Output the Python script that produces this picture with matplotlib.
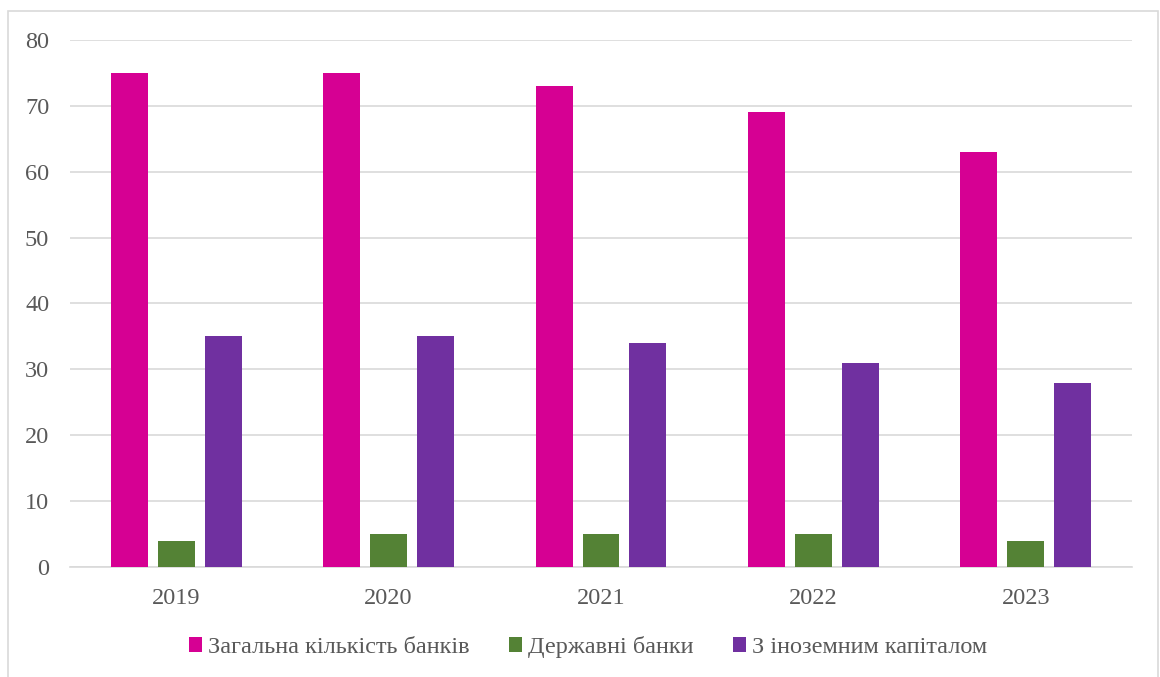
import matplotlib.pyplot as plt
import numpy as np
from matplotlib.patches import Rectangle

years = ['2019', '2020', '2021', '2022', '2023']
total_banks = [75, 75, 73, 69, 63]
state_banks = [4, 5, 5, 5, 4]
foreign_banks = [35, 35, 34, 31, 28]

series_names = ['Загальна кількість банків', 'Державні банки', 'З іноземним капіталом']
colors = ['#D60093', '#548235', '#7030A0']

W, H = 1160, 677
fig = plt.figure(figsize=(W / 100, H / 100), dpi=100)

# outer chart frame (bottom edge is cut off in the reference)
fig.patches.append(Rectangle((8 / W, -0.01), 1150 / W, 1 - 11 / H + 0.01,
                             transform=fig.transFigure, fill=False,
                             edgecolor='#D9D9D9', linewidth=1.2))

ax = fig.add_axes([70 / W, 1 - 567 / H, 1062 / W, 527 / H])

x = np.arange(len(years))
bw = 0.174
step = 0.221
for k, vals in enumerate([total_banks, state_banks, foreign_banks]):
    ax.bar(x + (k - 1) * step, vals, width=bw, color=colors[k],
           label=series_names[k], zorder=3)

ax.set_xlim(-0.5, len(years) - 0.5)
ax.set_ylim(0, 80)
ax.set_yticks(range(0, 81, 10))
ax.set_xticks(x)
ax.set_xticklabels(years)

ax.grid(axis='y', color='#D9D9D9', linewidth=1.2, zorder=0)
for s in ['top', 'right', 'left']:
    ax.spines[s].set_visible(False)
ax.spines['bottom'].set_color('#D9D9D9')
ax.spines['bottom'].set_linewidth(1.2)
ax.tick_params(length=0, colors='#595959', labelsize=17.5)
ax.tick_params(axis='y', pad=15)
ax.tick_params(axis='x', pad=15)
for lab in ax.get_xticklabels() + ax.get_yticklabels():
    lab.set_family('Liberation Serif')

leg = fig.legend(loc='center', bbox_to_anchor=(588 / W, 1 - 647 / H), ncol=3,
                 frameon=False, handlelength=0.55, handleheight=0.55,
                 handletextpad=0.25, columnspacing=1.6,
                 prop={'family': 'Liberation Serif', 'size': 17.5})
for t in leg.get_texts():
    t.set_color('#595959')

fig.savefig('out.png', dpi=100)
